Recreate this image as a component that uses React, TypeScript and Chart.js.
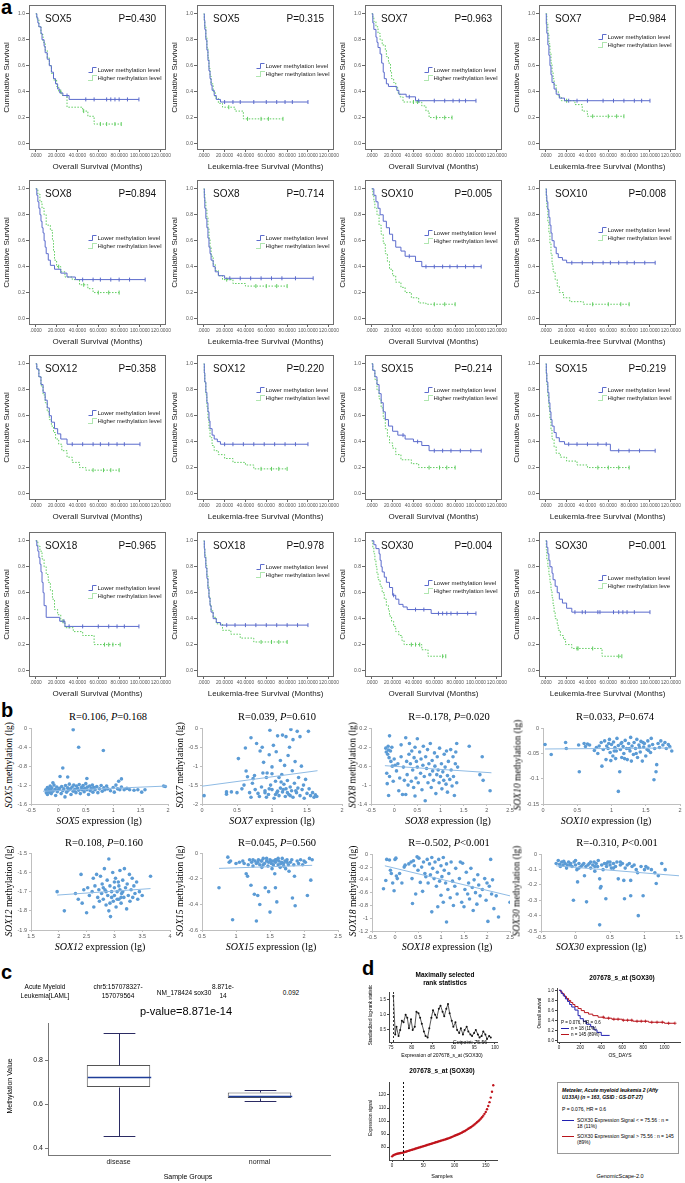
import React, { useEffect, useRef } from 'react';
import { Chart, registerables } from 'chart.js';

Chart.register(...registerables);

const SANS = '"Liberation Sans", Arial, sans-serif';
const SERIF = '"Liberation Serif", "Times New Roman", serif';
const KM_BLUE = '#5b6bcc';
const KM_GREEN = '#5fcc5f';
const PT_BLUE = '#5b9bd5';

// ---------------- Panel a: Kaplan-Meier curves [months, cumulative survival] ----------------
const KM_X_TICKS = [0, 20, 40, 60, 80, 100, 120];
const KM_Y_TICKS = [0, 0.2, 0.4, 0.6, 0.8, 1.0];

const SOX5_OS_LOW = [[0,1],[1,0.97],[2,0.93],[3,0.9],[5,0.85],[6,0.8],[8,0.75],[9,0.7],[11,0.65],[13,0.6],[15,0.55],[17,0.5],[19,0.46],[21,0.42],[23,0.39],[26,0.37],[32,0.34],[99,0.34]];
const SOX5_OS_LOW_C = [30,48,56,68,72,76,80,88,99];
const SOX5_OS_HIGH = [[0,1],[1,0.96],[3,0.9],[5,0.84],[7,0.78],[9,0.72],[11,0.66],[13,0.6],[15,0.54],[17,0.49],[20,0.44],[22,0.4],[25,0.37],[30,0.28],[45,0.25],[50,0.21],[56,0.15],[82,0.15]];
const SOX5_OS_HIGH_C = [24,46,62,68,76,82];
const SOX5_LFS_LOW = [[0,1],[0.5,0.95],[1,0.88],[2,0.8],[3,0.72],[4,0.64],[5,0.56],[6,0.5],[7,0.45],[8,0.41],[10,0.37],[12,0.34],[16,0.32],[100,0.32]];
const SOX5_LFS_LOW_C = [20,28,35,48,60,70,78,85,100];
const SOX5_LFS_HIGH = [[0,1],[0.5,0.95],[1,0.9],[2,0.82],[3,0.74],[4,0.66],[5,0.58],[6,0.52],[7,0.46],[9,0.4],[11,0.35],[14,0.31],[18,0.28],[30,0.25],[38,0.19],[76,0.19]];
const SOX5_LFS_HIGH_C = [24,42,55,62,76];

const SOX7_OS_LOW = [[0,1],[1,0.93],[2,0.88],[4,0.82],[5,0.78],[6,0.74],[8,0.69],[9.5,0.62],[11,0.55],[12,0.5],[14,0.46],[16,0.44],[24,0.41],[26,0.38],[33,0.36],[42,0.33],[100,0.33]];
const SOX7_OS_LOW_C = [36,45,60,70,78,84,90,100];
const SOX7_OS_HIGH = [[0,1],[1,0.97],[2,0.94],[4,0.9],[6,0.85],[8,0.8],[10,0.76],[13,0.72],[14,0.67],[16,0.62],[18,0.55],[19,0.5],[21,0.47],[23,0.43],[25,0.39],[27,0.36],[30,0.32],[48,0.29],[52,0.25],[55,0.2],[77,0.2]];
const SOX7_OS_HIGH_C = [40,44,62,70,77];
const SOX7_LFS_LOW = [[0,1],[0.5,0.92],[1,0.85],[2,0.76],[3,0.68],[4,0.6],[5,0.53],[6,0.47],[8,0.42],[10,0.38],[13,0.35],[18,0.33],[100,0.33]];
const SOX7_LFS_LOW_C = [22,30,40,55,65,75,85,92,100];
const SOX7_LFS_HIGH = [[0,1],[1,0.93],[2,0.85],[3,0.77],[4,0.7],[5,0.62],[6,0.55],[7,0.5],[8,0.45],[10,0.4],[12,0.36],[15,0.33],[28,0.3],[35,0.25],[40,0.21],[75,0.21]];
const SOX7_LFS_HIGH_C = [20,45,60,68,75];

const SOX8_OS_LOW = [[0,1],[1,0.95],[2,0.9],[3,0.85],[4,0.8],[5,0.75],[6,0.7],[7,0.66],[8,0.6],[9,0.55],[10,0.5],[12,0.45],[14,0.41],[18,0.38],[24,0.35],[30,0.32],[38,0.3],[105,0.3]];
const SOX8_OS_LOW_C = [45,55,62,72,80,90,105];
const SOX8_OS_HIGH = [[0,1],[2,0.96],[4,0.9],[6,0.85],[8,0.8],[10,0.72],[14,0.68],[16,0.6],[17,0.52],[18,0.45],[20,0.4],[24,0.36],[28,0.32],[35,0.3],[42,0.26],[50,0.23],[55,0.2],[80,0.2]];
const SOX8_OS_HIGH_C = [22,46,60,70,80];
const SOX8_LFS_LOW = [[0,1],[0.5,0.93],[1,0.85],[2,0.77],[3,0.7],[4,0.62],[5,0.55],[6,0.5],[7,0.45],[9,0.4],[11,0.36],[14,0.33],[20,0.31],[105,0.31]];
const SOX8_LFS_LOW_C = [25,35,45,55,65,75,88,105];
const SOX8_LFS_HIGH = [[0,1],[0.5,0.96],[1,0.9],[2,0.84],[3,0.78],[4,0.7],[5,0.62],[6,0.55],[7,0.48],[9,0.42],[11,0.37],[14,0.33],[18,0.3],[28,0.27],[40,0.25],[80,0.25]];
const SOX8_LFS_HIGH_C = [22,50,60,70,80];

const SOX10_OS_LOW = [[0,1],[2,0.95],[4,0.9],[6,0.85],[8,0.8],[11,0.75],[14,0.7],[17,0.65],[20,0.6],[23,0.55],[28,0.52],[32,0.48],[42,0.44],[48,0.4],[105,0.4]];
const SOX10_OS_LOW_C = [36,52,60,68,75,82,90,98,105];
const SOX10_OS_HIGH = [[0,1],[1,0.95],[2,0.9],[3,0.85],[5,0.8],[7,0.72],[9,0.65],[11,0.58],[13,0.5],[15,0.44],[17,0.38],[20,0.33],[23,0.28],[28,0.24],[32,0.2],[38,0.16],[45,0.12],[52,0.11],[80,0.11]];
const SOX10_OS_HIGH_C = [60,70,80];
const SOX10_LFS_LOW = [[0,1],[0.5,0.95],[1,0.9],[2,0.84],[3,0.78],[4,0.72],[5,0.66],[6,0.6],[8,0.55],[10,0.5],[12,0.47],[16,0.45],[20,0.43],[105,0.43]];
const SOX10_LFS_LOW_C = [25,35,45,55,62,70,78,85,95,105];
const SOX10_LFS_HIGH = [[0,1],[0.5,0.93],[1,0.85],[2,0.75],[3,0.66],[4,0.58],[5,0.5],[6,0.42],[7,0.36],[9,0.3],[11,0.25],[13,0.2],[17,0.16],[23,0.13],[36,0.11],[80,0.11]];
const SOX10_LFS_HIGH_C = [45,60,72,80];

const SOX12_OS_LOW = [[0,1],[1,0.96],[3,0.9],[5,0.84],[7,0.78],[9,0.72],[11,0.66],[13,0.6],[15,0.55],[18,0.5],[21,0.46],[24,0.42],[30,0.38],[100,0.38]];
const SOX12_OS_LOW_C = [35,45,55,62,70,78,85,100];
const SOX12_OS_HIGH = [[0,1],[1,0.96],[3,0.9],[5,0.83],[7,0.76],[9,0.7],[11,0.63],[13,0.57],[15,0.52],[17,0.47],[19,0.42],[22,0.38],[25,0.33],[30,0.28],[35,0.24],[42,0.2],[48,0.18],[80,0.18]];
const SOX12_OS_HIGH_C = [55,65,72,80];
const SOX12_LFS_LOW = [[0,1],[0.5,0.93],[1,0.86],[2,0.78],[3,0.7],[4,0.63],[5,0.56],[6,0.5],[8,0.45],[10,0.42],[13,0.4],[16,0.38],[100,0.38]];
const SOX12_LFS_LOW_C = [20,28,38,48,58,68,78,88,100];
const SOX12_LFS_HIGH = [[0,1],[0.5,0.93],[1,0.85],[2,0.76],[3,0.67],[4,0.58],[5,0.5],[6,0.43],[8,0.37],[10,0.33],[14,0.3],[20,0.27],[28,0.24],[40,0.22],[48,0.19],[80,0.19]];
const SOX12_LFS_HIGH_C = [55,65,72,80];

const SOX15_OS_LOW = [[0,1],[1,0.95],[3,0.9],[5,0.84],[7,0.77],[9,0.7],[11,0.63],[13,0.57],[16,0.52],[20,0.48],[25,0.45],[32,0.42],[40,0.4],[48,0.37],[55,0.33],[105,0.33]];
const SOX15_OS_LOW_C = [30,44,60,68,76,85,95,105];
const SOX15_OS_HIGH = [[0,1],[1,0.95],[3,0.88],[5,0.8],[7,0.73],[9,0.66],[11,0.58],[13,0.5],[15,0.44],[17,0.39],[20,0.35],[23,0.3],[28,0.26],[38,0.23],[45,0.2],[80,0.2]];
const SOX15_OS_HIGH_C = [55,65,72,80];
const SOX15_LFS_LOW = [[0,1],[0.5,0.93],[1,0.86],[2,0.78],[3,0.7],[4,0.63],[5,0.57],[6,0.52],[8,0.47],[10,0.43],[13,0.4],[18,0.38],[62,0.33],[105,0.33]];
const SOX15_LFS_LOW_C = [22,30,40,50,58,70,80,90,105];
const SOX15_LFS_HIGH = [[0,1],[0.5,0.92],[1,0.84],[2,0.75],[3,0.66],[4,0.57],[5,0.49],[6,0.42],[8,0.36],[10,0.31],[14,0.28],[20,0.25],[30,0.22],[40,0.2],[80,0.2]];
const SOX15_LFS_HIGH_C = [50,60,70,80];

const SOX18_OS_LOW = [[0,1],[1,0.96],[2,0.92],[3,0.87],[4,0.82],[5,0.76],[6,0.68],[7,0.6],[8,0.5],[10,0.41],[23,0.38],[28,0.34],[99,0.34]];
const SOX18_OS_LOW_C = [27,32,45,60,70,78,85,99];
const SOX18_OS_HIGH = [[0,1],[2,0.96],[4,0.92],[6,0.86],[8,0.8],[10,0.74],[12,0.68],[14,0.62],[16,0.55],[18,0.47],[21,0.43],[24,0.38],[28,0.33],[36,0.3],[45,0.27],[56,0.2],[81,0.2]];
const SOX18_OS_HIGH_C = [26,66,70,74,81];
const SOX18_LFS_LOW = [[0,1],[0.5,0.94],[1,0.87],[2,0.79],[3,0.71],[4,0.63],[5,0.56],[6,0.5],[7,0.45],[9,0.4],[12,0.37],[16,0.35],[100,0.35]];
const SOX18_LFS_LOW_C = [22,30,40,50,60,70,80,90,100];
const SOX18_LFS_HIGH = [[0,1],[0.5,0.95],[1,0.89],[2,0.81],[3,0.73],[4,0.65],[5,0.57],[6,0.51],[7,0.46],[9,0.41],[12,0.36],[18,0.31],[26,0.28],[35,0.25],[48,0.22],[80,0.22]];
const SOX18_LFS_HIGH_C = [55,65,72,80];

const SOX30_OS_LOW = [[0,1],[2,0.97],[4,0.94],[7,0.9],[8,0.85],[9,0.8],[10,0.76],[12,0.72],[14,0.68],[17,0.64],[20,0.58],[23,0.55],[26,0.51],[30,0.49],[34,0.47],[57,0.44],[100,0.44]];
const SOX30_OS_LOW_C = [21,42,50,64,68,72,76,82,92,100];
const SOX30_OS_HIGH = [[0,1],[1,0.95],[2,0.9],[3,0.85],[4,0.8],[5,0.75],[6,0.7],[8,0.65],[10,0.6],[12,0.55],[14,0.5],[16,0.46],[17,0.42],[19,0.38],[21,0.34],[23,0.3],[26,0.27],[29,0.23],[31,0.2],[48,0.16],[54,0.11],[71,0.11]];
const SOX30_OS_HIGH_C = [38,42,46,68,71];
const SOX30_LFS_LOW = [[0,1],[1,0.95],[2,0.9],[3,0.85],[4,0.8],[6,0.75],[7,0.7],[9,0.65],[11,0.6],[13,0.55],[16,0.52],[20,0.48],[25,0.45],[100,0.45]];
const SOX30_LFS_LOW_C = [28,35,38,50,52,65,70,74,78,85,100];
const SOX30_LFS_HIGH = [[0,1],[0.5,0.93],[1,0.86],[2,0.8],[3,0.74],[4,0.68],[5,0.62],[6,0.56],[7,0.5],[8,0.45],[9,0.4],[11,0.35],[12,0.31],[14,0.27],[17,0.24],[19,0.2],[25,0.17],[54,0.11],[73,0.11]];
const SOX30_LFS_HIGH_C = [30,31,45,70,73];

const KM_PLOTS = [
  { gene: 'SOX5', p: 'P=0.430', os: true, low: SOX5_OS_LOW, lowC: SOX5_OS_LOW_C, high: SOX5_OS_HIGH, highC: SOX5_OS_HIGH_C, legY: 0.57 },
  { gene: 'SOX5', p: 'P=0.315', os: false, low: SOX5_LFS_LOW, lowC: SOX5_LFS_LOW_C, high: SOX5_LFS_HIGH, highC: SOX5_LFS_HIGH_C, legY: 0.6 },
  { gene: 'SOX7', p: 'P=0.963', os: true, low: SOX7_OS_LOW, lowC: SOX7_OS_LOW_C, high: SOX7_OS_HIGH, highC: SOX7_OS_HIGH_C, legY: 0.57 },
  { gene: 'SOX7', p: 'P=0.984', os: false, low: SOX7_LFS_LOW, lowC: SOX7_LFS_LOW_C, high: SOX7_LFS_HIGH, highC: SOX7_LFS_HIGH_C, legY: 0.82 },
  { gene: 'SOX8', p: 'P=0.894', os: true, low: SOX8_OS_LOW, lowC: SOX8_OS_LOW_C, high: SOX8_OS_HIGH, highC: SOX8_OS_HIGH_C, legY: 0.62 },
  { gene: 'SOX8', p: 'P=0.714', os: false, low: SOX8_LFS_LOW, lowC: SOX8_LFS_LOW_C, high: SOX8_LFS_HIGH, highC: SOX8_LFS_HIGH_C, legY: 0.62 },
  { gene: 'SOX10', p: 'P=0.005', os: true, low: SOX10_OS_LOW, lowC: SOX10_OS_LOW_C, high: SOX10_OS_HIGH, highC: SOX10_OS_HIGH_C, legY: 0.66 },
  { gene: 'SOX10', p: 'P=0.008', os: false, low: SOX10_LFS_LOW, lowC: SOX10_LFS_LOW_C, high: SOX10_LFS_HIGH, highC: SOX10_LFS_HIGH_C, legY: 0.68 },
  { gene: 'SOX12', p: 'P=0.358', os: true, low: SOX12_OS_LOW, lowC: SOX12_OS_LOW_C, high: SOX12_OS_HIGH, highC: SOX12_OS_HIGH_C, legY: 0.62 },
  { gene: 'SOX12', p: 'P=0.220', os: false, low: SOX12_LFS_LOW, lowC: SOX12_LFS_LOW_C, high: SOX12_LFS_HIGH, highC: SOX12_LFS_HIGH_C, legY: 0.8 },
  { gene: 'SOX15', p: 'P=0.214', os: true, low: SOX15_OS_LOW, lowC: SOX15_OS_LOW_C, high: SOX15_OS_HIGH, highC: SOX15_OS_HIGH_C, legY: 0.8 },
  { gene: 'SOX15', p: 'P=0.219', os: false, low: SOX15_LFS_LOW, lowC: SOX15_LFS_LOW_C, high: SOX15_LFS_HIGH, highC: SOX15_LFS_HIGH_C, legY: 0.8 },
  { gene: 'SOX18', p: 'P=0.965', os: true, low: SOX18_OS_LOW, lowC: SOX18_OS_LOW_C, high: SOX18_OS_HIGH, highC: SOX18_OS_HIGH_C, legY: 0.64 },
  { gene: 'SOX18', p: 'P=0.978', os: false, low: SOX18_LFS_LOW, lowC: SOX18_LFS_LOW_C, high: SOX18_LFS_HIGH, highC: SOX18_LFS_HIGH_C, legY: 0.8 },
  { gene: 'SOX30', p: 'P=0.004', os: true, low: SOX30_OS_LOW, lowC: SOX30_OS_LOW_C, high: SOX30_OS_HIGH, highC: SOX30_OS_HIGH_C, legY: 0.675 },
  { gene: 'SOX30', p: 'P=0.001', os: false, low: SOX30_LFS_LOW, lowC: SOX30_LFS_LOW_C, high: SOX30_LFS_HIGH, highC: SOX30_LFS_HIGH_C, legY: 0.71, hiText: 'Higher methylation leve' },
];
const KM_COL_LEFT = [0, 168, 336, 510];
const KM_ROW_TOP = [0, 175, 350, 527];

// ---------------- Panel b: expression vs methylation [expression lg, methylation lg] ----------------
const SOX5_PTS = [[-0.23,-1.3],[-0.22,-1.36],[-0.2,-1.25],[-0.2,-1.4],[-0.18,-1.32],[-0.17,-1.28],[-0.16,-1.35],[-0.15,-1.22],[-0.14,-1.3],[-0.13,-1.38],[-0.12,-1.26],[-0.1,-1.15],[-0.1,-1.33],[-0.08,-1.2],[-0.06,-1.29],[-0.05,-1.42],[-0.03,-1.24],[-0.02,-1.34],[0,-1.3],[0.02,-1.27],[0.03,-1.02],[0.05,-1.38],[0.06,-1.23],[0.08,-0.84],[0.08,-1.32],[0.1,-1.28],[0.12,-1.45],[0.13,-1.21],[0.15,-1.35],[0.17,-1.03],[0.17,-1.26],[0.18,-1.31],[0.2,-1.18],[0.22,-1.28],[0.23,-1.4],[0.25,-1.24],[0.27,-0.03],[0.27,-1.33],[0.28,-1.2],[0.3,-1.29],[0.32,-1.36],[0.33,-1.22],[0.35,-1.27],[0.37,-0.4],[0.37,-1.31],[0.38,-1.19],[0.4,-1.38],[0.42,-1.25],[0.43,-1.3],[0.45,-1.21],[0.47,-1.34],[0.48,-1.27],[0.5,-1.17],[0.52,-1.06],[0.52,-1.3],[0.53,-1.24],[0.55,-1.4],[0.57,-1.22],[0.58,-1.32],[0.6,-1.27],[0.62,-1.2],[0.63,-1.35],[0.65,-1.25],[0.67,-1.3],[0.7,-1.23],[0.72,-1.36],[0.75,-1.28],[0.78,-1.21],[0.8,-1.33],[0.82,-0.47],[0.83,-1.26],[0.85,-1.3],[0.88,-1.22],[0.9,-1.28],[0.95,-1.32],[1.0,-1.25],[1.02,-1.35],[1.05,-1.2],[1.08,-1.28],[1.1,-1.12],[1.12,-1.3],[1.15,-1.07],[1.15,-1.24],[1.2,-1.3],[1.25,-1.27],[1.3,-1.3],[1.38,-1.31],[1.45,-1.3],[1.52,-1.35],[1.58,-1.3],[1.92,-1.22],[1.95,-1.23]];
const SOX7_PTS = [[0.03,-1.78],[0.35,-1.74],[0.35,-1.68],[0.42,-1.68],[0.5,-1.7],[0.52,-0.8],[0.57,-1.6],[0.6,-1.5],[0.62,-0.52],[0.63,-1.13],[0.65,-1.28],[0.68,-1.7],[0.7,-1.82],[0.7,-0.25],[0.72,-1.45],[0.73,-1.33],[0.75,-1.25],[0.76,-1.62],[0.78,-0.4],[0.8,-1.72],[0.82,-1.8],[0.83,-0.6],[0.85,-1.55],[0.86,-0.5],[0.87,-1.18],[0.88,-0.9],[0.9,-1.65],[0.92,-1.82],[0.92,-1.3],[0.93,-1.18],[0.95,-1.75],[0.96,-0.7],[0.97,-0.05],[0.98,-1.5],[1.0,-1.02],[1.0,-1.62],[1.0,-1.2],[1.02,-0.45],[1.03,-1.85],[1.05,-1.4],[1.06,-0.62],[1.07,-1.7],[1.08,-0.2],[1.1,-1.3],[1.1,-1.78],[1.12,-0.85],[1.12,-1.58],[1.13,-1.42],[1.14,-1.22],[1.15,-0.18],[1.15,-1.68],[1.17,-1.48],[1.18,-0.98],[1.19,-1.8],[1.2,-0.22],[1.2,-1.6],[1.22,-1.38],[1.23,-0.72],[1.24,-1.75],[1.25,-0.5],[1.26,-1.55],[1.27,-0.03],[1.28,-1.65],[1.29,-1.12],[1.3,-0.3],[1.3,-1.82],[1.32,-1.45],[1.33,-0.88],[1.35,-1.7],[1.36,-0.08],[1.37,-1.58],[1.38,-1.3],[1.4,-0.22],[1.4,-1.78],[1.42,-1.0],[1.43,-1.62],[1.45,-1.5],[1.46,-1.85],[1.48,-1.35],[1.5,-1.72],[1.52,-0.08],[1.53,-1.6],[1.55,-1.78],[1.58,-1.7],[1.6,-1.82],[1.62,-1.76],[1.64,-1.8],[0.96,-1.6],[1.05,-1.75],[1.16,-1.62],[1.22,-1.7],[1.34,-1.65],[0.9,-1.7],[1.08,-1.66],[1.26,-1.78]];
const SOX8_PTS = [[-0.18,-0.22],[-0.17,-0.3],[-0.16,-0.75],[-0.15,-0.97],[-0.14,-0.35],[-0.13,-0.18],[-0.12,-1.22],[-0.12,-0.26],[-0.11,-0.42],[-0.1,0.04],[-0.1,-0.82],[-0.08,-0.28],[-0.07,-0.5],[-0.05,-0.2],[-0.04,-0.6],[-0.02,-0.92],[0,-0.45],[0.02,-0.58],[0.05,-0.7],[0.08,-0.55],[0.1,-1.12],[0.12,-0.85],[0.15,-0.15],[0.15,-0.4],[0.18,-1.2],[0.2,-0.62],[0.22,-0.9],[0.25,0.0],[0.25,-1.2],[0.27,-0.5],[0.28,-0.78],[0.3,-1.0],[0.32,-0.35],[0.33,-0.12],[0.35,-0.55],[0.37,-0.92],[0.38,-0.28],[0.4,-0.68],[0.42,-1.05],[0.43,-0.42],[0.45,-0.2],[0.45,-1.23],[0.47,-0.85],[0.48,-0.5],[0.5,-0.02],[0.5,-0.62],[0.52,-0.95],[0.55,-0.3],[0.57,-0.75],[0.58,-0.45],[0.6,-1.1],[0.62,-0.58],[0.63,-0.18],[0.65,-0.82],[0.67,-1.33],[0.68,-0.4],[0.7,-0.65],[0.72,-0.25],[0.73,-0.95],[0.75,-0.55],[0.77,-0.78],[0.78,-0.12],[0.8,-1.05],[0.82,-0.48],[0.83,-0.7],[0.85,-0.9],[0.87,-0.32],[0.88,-0.6],[0.9,-1.18],[0.92,-0.78],[0.93,-0.4],[0.95,-0.68],[0.97,-0.95],[0.98,-0.22],[1.0,-0.82],[1.02,-0.55],[1.03,-1.08],[1.05,-0.72],[1.07,-0.9],[1.08,-0.35],[1.1,-0.62],[1.12,-0.98],[1.13,-0.28],[1.15,-1.15],[1.15,-0.8],[1.17,-0.5],[1.2,-0.88],[1.22,-0.25],[1.23,-0.68],[1.25,-1.02],[1.27,-0.4],[1.28,-0.82],[1.3,-1.22],[1.32,-0.55],[1.33,-0.3],[1.35,-0.12],[1.35,-0.95],[1.37,-0.62],[1.62,-0.18],[1.85,-0.78],[1.9,-0.4],[1.92,-0.9],[2.07,-1.12]];
const SOX10_PTS = [[0.03,-0.032],[0.12,-0.052],[0.33,-0.028],[0.34,-0.04],[0.52,-0.033],[0.53,-0.086],[0.6,-0.03],[0.62,-0.036],[0.65,-0.031],[0.68,-0.033],[0.75,-0.044],[0.78,-0.038],[0.8,-0.05],[0.82,-0.035],[0.85,-0.028],[0.86,-0.075],[0.88,-0.042],[0.9,-0.025],[0.92,-0.062],[0.93,-0.035],[0.95,-0.04],[0.96,-0.03],[0.97,-0.022],[0.98,-0.048],[0.99,-0.064],[1.0,-0.032],[1.02,-0.055],[1.03,-0.027],[1.04,-0.045],[1.05,-0.038],[1.06,-0.06],[1.07,-0.045],[1.08,-0.02],[1.1,-0.034],[1.1,-0.125],[1.12,-0.086],[1.13,-0.042],[1.14,-0.03],[1.15,-0.028],[1.15,-0.058],[1.17,-0.036],[1.18,-0.05],[1.19,-0.06],[1.2,-0.024],[1.22,-0.04],[1.23,-0.062],[1.25,-0.03],[1.26,-0.04],[1.27,-0.045],[1.28,-0.018],[1.29,-0.065],[1.3,-0.035],[1.32,-0.052],[1.33,-0.028],[1.35,-0.04],[1.36,-0.05],[1.37,-0.022],[1.38,-0.058],[1.4,-0.033],[1.41,-0.038],[1.42,-0.047],[1.43,-0.026],[1.45,-0.065],[1.46,-0.028],[1.47,-0.037],[1.48,-0.03],[1.5,-0.055],[1.52,-0.042],[1.53,-0.025],[1.54,-0.044],[1.55,-0.035],[1.57,-0.048],[1.58,-0.02],[1.6,-0.032],[1.62,-0.102],[1.63,-0.04],[1.65,-0.086],[1.66,-0.072],[1.68,-0.03],[1.7,-0.038],[1.72,-0.025],[1.75,-0.033],[1.78,-0.028],[1.8,-0.04],[1.83,-0.032],[1.85,-0.036],[1.88,-0.045]];
const SOX12_PTS = [[1.97,-1.7],[2.1,-1.8],[2.3,-1.71],[2.35,-1.74],[2.4,-1.61],[2.42,-1.76],[2.45,-1.69],[2.5,-1.81],[2.52,-1.68],[2.55,-1.72],[2.6,-1.7],[2.62,-1.63],[2.63,-1.78],[2.65,-1.67],[2.68,-1.61],[2.7,-1.73],[2.72,-1.69],[2.73,-1.75],[2.75,-1.62],[2.77,-1.71],[2.78,-1.66],[2.8,-1.74],[2.8,-1.68],[2.82,-1.58],[2.83,-1.69],[2.85,-1.77],[2.85,-1.7],[2.87,-1.64],[2.88,-1.72],[2.9,-1.53],[2.9,-1.8],[2.92,-1.67],[2.92,-1.76],[2.93,-1.83],[2.95,-1.7],[2.95,-1.73],[2.97,-1.6],[2.98,-1.75],[3.0,-1.68],[3.0,-1.72],[3.0,-1.65],[3.02,-1.63],[3.03,-1.78],[3.05,-1.7],[3.05,-1.74],[3.07,-1.65],[3.08,-1.74],[3.08,-1.67],[3.1,-1.59],[3.1,-1.69],[3.12,-1.76],[3.12,-1.73],[3.13,-1.71],[3.15,-1.64],[3.15,-1.7],[3.17,-1.73],[3.18,-1.58],[3.2,-1.68],[3.22,-1.79],[3.23,-1.66],[3.25,-1.72],[3.27,-1.61],[3.28,-1.75],[3.3,-1.69],[3.32,-1.63],[3.33,-1.73],[3.35,-1.67],[3.37,-1.71],[3.4,-1.65],[3.42,-1.74],[3.45,-1.7],[3.5,-1.72],[3.65,-1.62]];
const SOX15_PTS = [[0.75,-0.27],[0.88,-0.03],[0.9,-0.07],[0.92,-0.06],[0.95,-0.52],[1.0,-0.08],[1.05,-0.07],[1.1,-0.06],[1.12,-0.08],[1.15,-0.16],[1.17,-0.18],[1.18,-0.09],[1.2,-0.05],[1.22,-0.25],[1.23,-0.07],[1.25,-0.1],[1.25,-0.05],[1.27,-0.32],[1.28,-0.06],[1.3,-0.53],[1.3,-0.08],[1.32,-0.33],[1.32,-0.07],[1.33,-0.05],[1.35,-0.09],[1.35,-0.4],[1.37,-0.06],[1.38,-0.11],[1.38,-0.06],[1.4,-0.04],[1.4,-0.09],[1.42,-0.08],[1.43,-0.27],[1.45,-0.06],[1.45,-0.04],[1.47,-0.1],[1.48,-0.3],[1.48,-0.07],[1.5,-0.05],[1.5,-0.46],[1.52,-0.08],[1.52,-0.06],[1.53,-0.12],[1.55,-0.06],[1.55,-0.09],[1.57,-0.16],[1.58,-0.27],[1.58,-0.07],[1.58,-0.05],[1.6,-0.05],[1.6,-0.38],[1.62,-0.09],[1.62,-0.04],[1.63,-0.06],[1.65,-0.11],[1.66,-0.08],[1.67,-0.07],[1.68,-0.04],[1.7,-0.08],[1.7,-0.1],[1.72,-0.06],[1.73,-0.12],[1.75,-0.05],[1.75,-0.07],[1.77,-0.09],[1.78,-0.14],[1.8,-0.07],[1.82,-0.05],[1.83,-0.35],[1.85,-0.09],[1.86,-0.18],[1.87,-0.41],[1.9,-0.06],[1.92,-0.08],[1.95,-0.05],[1.98,-0.09],[2.0,-0.06],[2.02,-0.07],[2.05,-0.33],[2.08,-0.04],[2.1,-0.21],[2.12,-0.05]];
const SOX18_PTS = [[-0.25,-0.54],[-0.2,-0.41],[-0.18,-0.08],[-0.12,-0.09],[-0.1,-0.25],[-0.08,-0.3],[-0.05,-0.45],[-0.02,-0.57],[0,-0.08],[0.02,-0.06],[0.03,-0.34],[0.05,-0.38],[0.1,-0.3],[0.15,-0.45],[0.2,-0.2],[0.22,-0.17],[0.3,-0.15],[0.35,-0.12],[0.37,-0.38],[0.38,-0.77],[0.4,-0.1],[0.42,-0.18],[0.45,-0.62],[0.48,-0.04],[0.5,-0.25],[0.52,-0.06],[0.55,-0.44],[0.58,-0.2],[0.6,-0.58],[0.62,-0.12],[0.65,-0.3],[0.67,-0.35],[0.7,-0.08],[0.72,-0.45],[0.75,-0.15],[0.77,-0.32],[0.8,-0.05],[0.8,-0.9],[0.82,-0.22],[0.85,-0.38],[0.87,-0.12],[0.9,-0.5],[0.92,-0.28],[0.93,-0.82],[0.95,-0.08],[0.97,-0.42],[1.0,-0.18],[1.0,-0.64],[1.02,-0.35],[1.05,-0.05],[1.05,-0.75],[1.07,-0.25],[1.1,-0.45],[1.12,-1.06],[1.12,-0.15],[1.15,-0.55],[1.17,-0.3],[1.2,-0.68],[1.22,-0.12],[1.25,-0.42],[1.27,-0.8],[1.3,-0.5],[1.32,-0.22],[1.35,-0.62],[1.4,-0.38],[1.42,-0.12],[1.45,-0.75],[1.47,-0.14],[1.5,-0.82],[1.52,-0.55],[1.55,-0.28],[1.58,-0.62],[1.6,-0.45],[1.62,-0.7],[1.65,-0.22],[1.68,-0.52],[1.7,-0.88],[1.72,-0.4],[1.75,-0.6],[1.78,-0.78],[1.8,-0.32],[1.82,-0.48],[1.85,-0.65],[1.9,-0.55],[1.95,-0.38],[1.98,-0.72],[2.0,-0.45],[2.02,-1.05],[2.05,-0.5],[2.08,-0.08],[2.1,-0.62],[2.12,-0.4],[2.15,-0.85],[2.2,-0.65],[2.25,-0.98],[2.5,-0.75]];
const SOX30_PTS = [[-0.28,-0.06],[-0.25,-0.04],[-0.23,-0.065],[-0.22,-0.08],[-0.2,-0.05],[-0.18,-0.07],[-0.17,-0.045],[-0.15,-0.06],[-0.13,-0.09],[-0.12,-0.07],[-0.1,-0.05],[-0.08,-0.07],[-0.07,-0.06],[-0.05,-0.08],[-0.03,-0.3],[-0.02,-0.05],[0,-0.07],[0,-0.04],[0.02,-0.1],[0.03,-0.18],[0.05,-0.06],[0.05,-0.09],[0.08,-0.08],[0.1,-0.07],[0.12,-0.06],[0.13,-0.14],[0.15,-0.08],[0.16,-0.31],[0.18,-0.07],[0.2,-0.06],[0.22,-0.09],[0.22,-0.05],[0.25,-0.07],[0.27,-0.05],[0.28,-0.11],[0.28,-0.08],[0.3,-0.06],[0.32,-0.08],[0.33,-0.04],[0.35,-0.16],[0.35,-0.46],[0.36,-0.22],[0.37,-0.21],[0.38,-0.07],[0.4,-0.1],[0.42,-0.06],[0.44,-0.29],[0.45,-0.08],[0.45,-0.06],[0.47,-0.05],[0.5,-0.07],[0.5,-0.05],[0.52,-0.09],[0.55,-0.06],[0.55,-0.09],[0.58,-0.08],[0.6,-0.05],[0.62,-0.16],[0.65,-0.07],[0.65,-0.05],[0.68,-0.06],[0.7,-0.17],[0.71,-0.29],[0.72,-0.09],[0.75,-0.07],[0.78,-0.06],[0.8,-0.17],[0.8,-0.27],[0.82,-0.08],[0.85,-0.07],[0.88,-0.1],[0.9,-0.12],[0.91,-0.4],[0.95,-0.08],[0.98,-0.27],[1.0,-0.1],[1.02,-0.08],[1.05,-0.09],[1.1,-0.1],[1.15,-0.12],[1.17,-0.19],[1.2,-0.14],[1.25,-0.06],[1.3,-0.1]];

const SOX5_FIT = [[-0.28,-1.33],[1.98,-1.22]];
const SOX7_FIT = [[0,-1.53],[1.65,-1.12]];
const SOX8_FIT = [[-0.2,-0.59],[2.1,-0.74]];
const SOX10_FIT = [[0.03,-0.041],[1.88,-0.039]];
const SOX12_FIT = [[1.97,-1.718],[3.65,-1.684]];
const SOX15_FIT = [[0.75,-0.118],[2.12,-0.094]];
const SOX18_FIT = [[-0.22,-0.18],[2.5,-0.65]];
const SOX30_FIT = [[-0.28,-0.075],[1.5,-0.14]];

const B_PLOTS = [
  { gene: 'SOX5', r: 'R=0.106, ', p: '=0.168', pts: SOX5_PTS, fit: SOX5_FIT, xt: [-0.5,0,0.5,1,1.5,2], yt: [-1.6,-1.2,-0.8,-0.4,0] },
  { gene: 'SOX7', r: 'R=0.039, ', p: '=0.610', pts: SOX7_PTS, fit: SOX7_FIT, xt: [0,0.5,1,1.5,2], yt: [-2,-1.5,-1,-0.5,0] },
  { gene: 'SOX8', r: 'R=-0.178, ', p: '=0.020', pts: SOX8_PTS, fit: SOX8_FIT, xt: [-0.5,0,0.5,1,1.5,2,2.5], yt: [-1.4,-1,-0.6,-0.2,0.2] },
  { gene: 'SOX10', r: 'R=0.033, ', p: '=0.674', pts: SOX10_PTS, fit: SOX10_FIT, xt: [0,0.5,1,1.5,2], yt: [-0.15,-0.1,-0.05,0] },
  { gene: 'SOX12', r: 'R=0.108, ', p: '=0.160', pts: SOX12_PTS, fit: SOX12_FIT, xt: [1.5,2,2.5,3,3.5,4], yt: [-1.9,-1.8,-1.7,-1.6,-1.5] },
  { gene: 'SOX15', r: 'R=0.045, ', p: '=0.560', pts: SOX15_PTS, fit: SOX15_FIT, xt: [0.5,1,1.5,2,2.5], yt: [-0.6,-0.4,-0.2,0] },
  { gene: 'SOX18', r: 'R=-0.502, ', p: '<0.001', pts: SOX18_PTS, fit: SOX18_FIT, xt: [-0.5,0,0.5,1,1.5,2,2.5], yt: [-1.2,-1,-0.8,-0.6,-0.4,-0.2,0] },
  { gene: 'SOX30', r: 'R=-0.310, ', p: '<0.001', pts: SOX30_PTS, fit: SOX30_FIT, xt: [-0.5,0,0.5,1,1.5], yt: [-0.5,-0.4,-0.3,-0.2,-0.1,0] },
];
// plot areas [left, top, right, bottom]
const B_AREAS = [[31,727,168,804],[202,727,342,804],[371,727,510,804],[543,727,680,804],[31,852,170,930],[202,852,338,930],[372,853,510,931],[541,853,679,931]];
const B_TITLE_X = [108, 277, 449, 615, 104, 277, 449, 617];
const B_XT_X = [99, 272, 448, 606, 100, 271, 447, 601];
const B_YL_X = [9, 180, 353, 518, 9, 180, 353, 517];

// ---------------- Panel c: box plot ----------------
const C_GROUPS = ['disease', 'normal'];
const C_MIN = [0.455, 0.615];
const C_Q1 = [0.68, 0.63];
const C_MED = [0.725, 0.64];
const C_Q3 = [0.78, 0.655];
const C_MAX = [0.925, 0.665];
const C_Y_TICKS = [0.4, 0.6, 0.8];

// ---------------- Panel d ----------------
const D1_CUTS = [75.56,76.0,76.3,76.8,77.2,77.6,78.0,78.5,78.9,79.3,79.8,80.2,80.7,81.1,81.6,82.0,82.4,82.9,83.3,83.8,84.2,84.7,85.1,85.6,86.0,86.5,86.9,87.4,87.8,88.3,88.7,89.1,89.6,90.0,90.5,90.9,91.4,91.8,92.3,92.7,93.2,93.6,94.1,94.5,95.0,95.4,95.9,96.3,96.8,97.2,97.7,98.1,98.6,99.0];
const D1_STATS = [1.62,0.35,0.6,0.3,0.5,0.8,0.75,1.0,0.9,0.55,0.85,0.5,0.6,1.1,1.05,0.9,0.7,0.45,0.3,0.25,0.55,0.9,1.15,1.0,0.9,1.2,1.3,1.1,0.95,1.2,1.35,1.05,0.8,0.6,0.75,0.5,0.4,0.55,0.35,0.5,0.6,0.45,0.35,0.3,0.4,0.5,0.35,0.25,0.3,0.45,0.35,0.2,0.3,0.25];
const D1_CUTPOINT = 75.56;
const D1_X_TICKS = [75, 80, 85, 90, 95, 100];
const D1_Y_TICKS = [0.5, 1.0, 1.5];

const D2_LOW = [[0,1],[20,0.94],[40,0.89],[60,0.83],[80,0.78],[100,0.72],[120,0.67],[150,0.61],[180,0.5],[200,0.44],[230,0.39],[260,0.33],[300,0.28],[330,0.22],[360,0.17],[400,0.11],[480,0.11]];
const D2_HIGH = [[0,1],[15,0.97],[30,0.93],[50,0.88],[70,0.84],[90,0.8],[110,0.76],[130,0.72],[150,0.68],[180,0.64],[210,0.6],[240,0.56],[280,0.53],[320,0.5],[370,0.47],[430,0.45],[500,0.43],[600,0.41],[700,0.39],[850,0.37],[1000,0.35],[1100,0.35]];
const D2_HIGH_C = [420,470,520,560,610,650,690,740,780,820,880,930,980,1040,1100];
const D2_X_TICKS = [0, 200, 400, 600, 800, 1000];
const D2_Y_TICKS = [0, 0.2, 0.4, 0.6, 0.8, 1.0];

const D3_SIGNAL = [72.8,73.6,74.1,74.5,74.8,75.0,75.2,75.4,75.5,75.8,76.1,76.4,76.7,77.0,77.3,77.6,77.9,78.2,78.5,78.8,79.1,79.4,79.7,80.0,80.3,80.6,80.9,81.2,81.5,81.8,82.1,82.4,82.7,83.0,83.3,83.6,83.9,84.2,84.5,84.8,85.1,85.4,85.7,86.0,86.3,86.6,87.0,87.4,87.8,88.2,88.6,89.0,89.4,89.8,90.2,90.7,91.2,91.7,92.2,92.8,93.4,94.0,94.6,95.2,95.9,96.6,97.4,98.2,99.0,99.9,100.8,101.8,102.9,104.1,105.5,107.0,109.0,111.5,114.5,118.0,122.5,127.5];
const D3_SAMPLE_STEP = 2;
const D3_CUT_INDEX = 18;
const D3_X_TICKS = [0, 50, 100, 150];
const D3_Y_TICKS = [80, 90, 100, 110, 120];

// ---------------- helpers ----------------
const fmt = (v: number) => String(Math.round(v * 1000) / 1000);
const fixedTicks = (vals: number[]) => (s: any) => { s.ticks = vals.map((value) => ({ value })); };

function ChartBox({ left, top, width, height, config }: any) {
  const ref = useRef<HTMLCanvasElement>(null);
  useEffect(() => {
    const chart = new Chart(ref.current as HTMLCanvasElement, config());
    return () => chart.destroy();
  }, []);
  return <canvas ref={ref} width={width} height={height} style={{ position: 'absolute', left, top, width, height }} />;
}

function Txt({ x, y, size, children, family = SANS, weight = 'normal', italic = false, anchor = 'c', rot = false, color = '#000', lh = 1.15, align = 'center' }: any) {
  const tx = anchor === 'l' ? '0' : anchor === 'r' ? '-100%' : '-50%';
  return (
    <div style={{ position: 'absolute', left: x, top: y, transform: `translate(${tx},-50%)${rot ? ' rotate(-90deg)' : ''}`, fontSize: size, fontFamily: family, fontWeight: weight, fontStyle: italic ? 'italic' : 'normal', whiteSpace: 'nowrap', lineHeight: lh, color, textAlign: align }}>
      {children}
    </div>
  );
}

const stepAt = (curve: number[][], t: number) => { let s = 1; for (const [tt, ss] of curve) if (tt <= t) s = ss; return s; };

function kmConfig(k: any) {
  const line = (c: number[][], color: string, dash: number[]) => ({ data: c.map(([x, y]) => ({ x, y })), showLine: true, stepped: true, borderColor: color, borderWidth: 1, borderDash: dash, pointRadius: 0, fill: false });
  const cens = (c: number[][], ts: number[], color: string) => ({ data: ts.map((t) => ({ x: t, y: stepAt(c, t) })), showLine: false, pointStyle: 'line', rotation: 90, pointRadius: 2, borderColor: color, borderWidth: 1 });
  const deco = {
    id: 'kmDeco',
    afterDraw(chart: any) {
      const { ctx, chartArea: a, scales } = chart;
      ctx.save();
      ctx.strokeStyle = '#6e6e6e'; ctx.lineWidth = 1;
      ctx.strokeRect(Math.round(a.left) + 0.5, Math.round(a.top) + 0.5, Math.round(a.width) - 1, Math.round(a.height) - 1);
      ctx.fillStyle = '#111'; ctx.font = `10px ${SANS}`; ctx.textBaseline = 'middle';
      ctx.textAlign = 'left'; ctx.fillText(k.gene, a.left + 16, a.top + 14);
      ctx.textAlign = 'right'; ctx.fillText(k.p, a.right - 10, a.top + 14);
      ctx.beginPath(); ctx.rect(a.left, a.top, a.width - 1, a.height); ctx.clip();
      const gx = Math.round(scales.x.getPixelForValue(50)) + 0.5;
      const y1 = Math.round(scales.y.getPixelForValue(k.legY)) + 0.5;
      const y2 = y1 + 8;
      ctx.lineWidth = 1;
      ctx.strokeStyle = KM_BLUE; ctx.setLineDash([]);
      ctx.beginPath(); ctx.moveTo(gx, y1 + 2); ctx.lineTo(gx + 4, y1 + 2); ctx.lineTo(gx + 4, y1 - 3); ctx.lineTo(gx + 8, y1 - 3); ctx.stroke();
      ctx.strokeStyle = KM_GREEN; ctx.setLineDash([1, 1]);
      ctx.beginPath(); ctx.moveTo(gx, y2 + 2); ctx.lineTo(gx + 4, y2 + 2); ctx.lineTo(gx + 4, y2 - 3); ctx.lineTo(gx + 8, y2 - 3); ctx.stroke();
      ctx.setLineDash([]);
      ctx.fillStyle = '#222'; ctx.font = `6px ${SANS}`; ctx.textAlign = 'left';
      ctx.fillText('Lower methylation level', gx + 9, y1);
      ctx.fillText(k.hiText || 'Higher methylation level', gx + 9, y2);
      ctx.restore();
    },
  };
  return {
    type: 'scatter',
    data: { datasets: [line(k.low, KM_BLUE, []), line(k.high, KM_GREEN, [1.5, 1.5]), cens(k.low, k.lowC, KM_BLUE), cens(k.high, k.highC, KM_GREEN)] },
    options: {
      animation: false, responsive: false, devicePixelRatio: 1,
      layout: { padding: { top: 3, right: 1, left: 0, bottom: 0 } },
      plugins: { legend: { display: false }, tooltip: { enabled: false } },
      scales: {
        x: {
          type: 'linear', min: -6.5, max: 125,
          afterBuildTicks: fixedTicks(KM_X_TICKS), afterFit: (s: any) => { s.height = 22; },
          ticks: { autoSkip: false, maxRotation: 0, padding: 1, font: { size: 4.8, family: SANS }, color: '#555', callback: (v: number) => (v === 0 ? '.0000' : v.toFixed(4)) },
          grid: { drawOnChartArea: false, tickLength: 2, color: '#666' }, border: { display: false },
          title: { display: true, text: k.os ? 'Overall Survival (Months)' : 'Leukemia-free Survival (Months)', font: { size: 8, family: SANS }, color: '#222', padding: { top: 1, bottom: 0 } },
        },
        y: {
          type: 'linear', min: -0.05, max: 1.068,
          afterBuildTicks: fixedTicks(KM_Y_TICKS), afterFit: (s: any) => { s.width = 29; },
          ticks: { autoSkip: false, padding: 1, font: { size: 5, family: SANS }, color: '#555', callback: (v: number) => v.toFixed(1) },
          grid: { drawOnChartArea: false, tickLength: 3, color: '#666' }, border: { display: false },
          title: { display: true, text: 'Cumulative Survival', font: { size: 8, family: SANS }, color: '#222', padding: { top: 2, bottom: 0 } },
        },
      },
    },
    plugins: [deco],
  };
}

function scatterConfig(b: any, yw: number) {
  const xt = b.xt, yt = b.yt;
  return {
    type: 'scatter',
    data: {
      datasets: [
        { data: b.fit.map(([x, y]: number[]) => ({ x, y })), showLine: true, borderColor: '#8fbbe4', borderWidth: 1, pointRadius: 0 },
        { data: b.pts.map(([x, y]: number[]) => ({ x, y })), backgroundColor: PT_BLUE, borderWidth: 0, pointRadius: 1.8 },
      ],
    },
    options: {
      animation: false, responsive: false, devicePixelRatio: 1,
      layout: { padding: { top: 4, right: 6, left: 0, bottom: 0 } },
      plugins: { legend: { display: false }, tooltip: { enabled: false } },
      scales: {
        x: {
          type: 'linear', min: xt[0], max: xt[xt.length - 1],
          afterBuildTicks: fixedTicks(xt), afterFit: (s: any) => { s.height = 12; },
          ticks: { autoSkip: false, maxRotation: 0, padding: 1, font: { size: 5.5, family: SANS }, color: '#595959', callback: fmt },
          grid: { drawOnChartArea: false, tickLength: 2, color: '#bfbfbf' }, border: { color: '#bfbfbf' },
        },
        y: {
          type: 'linear', min: yt[0], max: yt[yt.length - 1],
          afterBuildTicks: fixedTicks(yt), afterFit: (s: any) => { s.width = yw; },
          ticks: { autoSkip: false, padding: 2, font: { size: 5.5, family: SANS }, color: '#595959', callback: fmt },
          grid: { drawOnChartArea: false, tickLength: 2, color: '#bfbfbf' }, border: { color: '#bfbfbf' },
        },
      },
    },
  };
}

function boxConfig() {
  const whisk = {
    id: 'whiskers',
    afterDatasetsDraw(chart: any) {
      const { ctx, scales } = chart;
      const y = scales.y;
      const meta = chart.getDatasetMeta(0);
      ctx.save();
      meta.data.forEach((bar: any, i: number) => {
        const x = Math.round(bar.x) + 0.5, w = bar.width;
        const p = (v: number) => Math.round(y.getPixelForValue(v)) + 0.5;
        ctx.strokeStyle = '#2b2b63'; ctx.lineWidth = 1;
        ctx.beginPath();
        ctx.moveTo(x, p(C_Q3[i])); ctx.lineTo(x, p(C_MAX[i]));
        ctx.moveTo(x - w * 0.25, p(C_MAX[i])); ctx.lineTo(x + w * 0.25, p(C_MAX[i]));
        ctx.moveTo(x, p(C_Q1[i])); ctx.lineTo(x, p(C_MIN[i]));
        ctx.moveTo(x - w * 0.25, p(C_MIN[i])); ctx.lineTo(x + w * 0.25, p(C_MIN[i]));
        ctx.stroke();
        ctx.strokeStyle = '#1f3d99'; ctx.lineWidth = 1.3;
        ctx.beginPath(); ctx.moveTo(x - w / 2, p(C_MED[i])); ctx.lineTo(x + w / 2, p(C_MED[i])); ctx.stroke();
      });
      ctx.restore();
    },
  };
  return {
    type: 'bar',
    data: { labels: C_GROUPS, datasets: [{ data: C_GROUPS.map((_, i) => [C_Q1[i], C_Q3[i]]), backgroundColor: '#ffffff', borderColor: '#555', borderWidth: 1, borderSkipped: false, barPercentage: 0.45, categoryPercentage: 1 }] },
    options: {
      animation: false, responsive: false, devicePixelRatio: 1,
      layout: { padding: { top: 5, right: 5, left: 0, bottom: 0 } },
      plugins: { legend: { display: false }, tooltip: { enabled: false } },
      scales: {
        x: {
          type: 'category', afterFit: (s: any) => { s.height = 14; },
          ticks: { autoSkip: false, maxRotation: 0, minRotation: 0, padding: 3, font: { size: 7, family: SANS }, color: '#222' },
          grid: { display: false, drawTicks: false, tickLength: 0 }, border: { color: '#777' },
        },
        y: {
          min: 0.37, max: 0.97, afterBuildTicks: fixedTicks(C_Y_TICKS), afterFit: (s: any) => { s.width = 28; },
          ticks: { padding: 2, font: { size: 7, family: SANS }, color: '#222', callback: (v: number) => v.toFixed(1) },
          grid: { drawOnChartArea: false, tickLength: 3, color: '#777' }, border: { color: '#777' },
        },
      },
    },
    plugins: [whisk],
  };
}

const vline = (value: number, color: string) => ({
  id: 'vline',
  afterDatasetsDraw(chart: any) {
    const { ctx, chartArea: a, scales } = chart;
    const x = Math.round(scales.x.getPixelForValue(value)) + 0.5;
    ctx.save(); ctx.strokeStyle = color; ctx.lineWidth = 1; ctx.setLineDash([2, 2]);
    ctx.beginPath(); ctx.moveTo(x, a.top); ctx.lineTo(x, a.bottom); ctx.stroke(); ctx.restore();
  },
});

const smallAxis = (min: number, max: number, ticks: number[], fitKey: string, fitVal: number, cb: any) => ({
  type: 'linear', min, max,
  afterBuildTicks: fixedTicks(ticks), afterFit: (s: any) => { s[fitKey] = fitVal; },
  ticks: { autoSkip: false, maxRotation: 0, padding: 1, font: { size: 4.5, family: SANS }, color: '#222', callback: cb },
  grid: { drawOnChartArea: false, tickLength: 2, color: '#444' }, border: { color: '#444' },
});

function d1Config() {
  return {
    type: 'scatter',
    data: { datasets: [{ data: D1_CUTS.map((x, i) => ({ x, y: D1_STATS[i] })), showLine: true, borderColor: '#111', borderWidth: 0.7, pointRadius: 1, backgroundColor: '#111', pointBorderWidth: 0 }] },
    options: {
      animation: false, responsive: false, devicePixelRatio: 1,
      layout: { padding: { top: 2, right: 3, left: 0, bottom: 0 } },
      plugins: { legend: { display: false }, tooltip: { enabled: false } },
      scales: { x: smallAxis(74.5, 100.5, D1_X_TICKS, 'height', 8, fmt), y: smallAxis(0.1, 1.75, D1_Y_TICKS, 'width', 12, (v: number) => v.toFixed(1)) },
    },
    plugins: [vline(D1_CUTPOINT, '#333')],
  };
}

function d2Config() {
  const line = (c: number[][], color: string) => ({ data: c.map(([x, y]) => ({ x, y })), showLine: true, stepped: true, borderColor: color, borderWidth: 1, pointRadius: 0 });
  return {
    type: 'scatter',
    data: {
      datasets: [
        line(D2_LOW, '#2020b0'), line(D2_HIGH, '#b8141c'),
        { data: D2_HIGH_C.map((t) => ({ x: t, y: stepAt(D2_HIGH, t) })), pointStyle: 'cross', pointRadius: 1.6, borderColor: '#b8141c', borderWidth: 0.8 },
      ],
    },
    options: {
      animation: false, responsive: false, devicePixelRatio: 1,
      layout: { padding: { top: 2, right: 3, left: 0, bottom: 0 } },
      plugins: { legend: { display: false }, tooltip: { enabled: false } },
      scales: { x: smallAxis(-20, 1150, D2_X_TICKS, 'height', 8, fmt), y: smallAxis(-0.02, 1.03, D2_Y_TICKS, 'width', 12, (v: number) => v.toFixed(1)) },
    },
  };
}

function d3Config() {
  return {
    type: 'scatter',
    data: { datasets: [{ data: D3_SIGNAL.map((v, i) => ({ x: i * D3_SAMPLE_STEP, y: v })), backgroundColor: '#c0141c', borderWidth: 0, pointRadius: 1.2 }] },
    options: {
      animation: false, responsive: false, devicePixelRatio: 1,
      layout: { padding: { top: 2, right: 3, left: 0, bottom: 0 } },
      plugins: { legend: { display: false }, tooltip: { enabled: false } },
      scales: { x: smallAxis(-5, 168, D3_X_TICKS, 'height', 8, fmt), y: smallAxis(70, 130, D3_Y_TICKS, 'width', 12, fmt) },
    },
    plugins: [vline(D3_CUT_INDEX, '#111')],
  };
}

export default function App() {
  return (
    <div style={{ position: 'absolute', left: 0, top: 0, width: 685, height: 1183, background: '#fff', overflow: 'hidden', fontFamily: SANS }}>
      {/* panel labels */}
      <Txt x={1} y={7} size={20} weight="bold" anchor="l">a</Txt>
      <Txt x={1} y={710} size={20} weight="bold" anchor="l">b</Txt>
      <Txt x={1} y={972} size={20} weight="bold" anchor="l">c</Txt>
      <Txt x={362} y={968} size={20} weight="bold" anchor="l">d</Txt>

      {/* panel a */}
      {KM_PLOTS.map((k, i) => (
        <ChartBox key={'km' + i} left={KM_COL_LEFT[i % 4]} top={KM_ROW_TOP[Math.floor(i / 4)]} width={172} height={172} config={() => kmConfig(k)} />
      ))}

      {/* panel b */}
      {B_PLOTS.map((b, i) => {
        const [l, t, r, bt] = B_AREAS[i];
        const yw = 16;
        const row = Math.floor(i / 4);
        return (
          <React.Fragment key={'b' + i}>
            <ChartBox left={l - yw} top={t - 4} width={r - l + yw + 6} height={bt - t + 4 + 12} config={() => scatterConfig(b, yw)} />
            <Txt x={B_TITLE_X[i]} y={row === 0 ? 717 : 843} size={10.5} family={SERIF}>{b.r}<i>P</i>{b.p}</Txt>
            <Txt x={B_XT_X[i]} y={row === 0 ? 821 : 947} size={10} family={SERIF}><i>{b.gene}</i> expression (lg)</Txt>
            <Txt x={B_YL_X[i]} y={row === 0 ? 765 : 891} size={9.5} family={SERIF} rot><i>{b.gene}</i> methylation (lg)</Txt>
          </React.Fragment>
        );
      })}

      {/* panel c */}
      <Txt x={45} y={992} size={6.5} lh={1.35}>Acute Myeloid<br />Leukemia[LAML]</Txt>
      <Txt x={118} y={992} size={6.5} lh={1.35}>chr5:157078327-<br />157079564</Txt>
      <Txt x={184} y={993} size={6.5}>NM_178424 sox30</Txt>
      <Txt x={223} y={992} size={6.5} lh={1.35}>8.871e-<br />14</Txt>
      <Txt x={291} y={993} size={6.5}>0.092</Txt>
      <Txt x={186} y={1011} size={11}>p-value=8.871e-14</Txt>
      <ChartBox left={20} top={1017} width={315} height={152} config={boxConfig} />
      <Txt x={10} y={1086} size={7} rot>Methylation Value</Txt>
      <Txt x={188} y={1177} size={7}>Sample Groups</Txt>

      {/* panel d */}
      <Txt x={445} y={979} size={6.5} weight="bold" lh={1.2}>Maximally selected<br />rank statistics</Txt>
      <ChartBox left={377} top={988} width={124} height={62} config={d1Config} />
      <Txt x={371} y={1015} size={4.5} rot>Standardized log-rank statistic</Txt>
      <Txt x={470} y={1043} size={5}>Cutpoint: 75.56</Txt>
      <Txt x={442} y={1056} size={5}>Expression of 207678_s_at (SOX30)</Txt>

      <Txt x={622} y={978} size={6.5} weight="bold">207678_s_at (SOX30)</Txt>
      <ChartBox left={545} top={984} width={140} height={66} config={d2Config} />
      <Txt x={540} y={1013} size={4.5} rot>Overall survival</Txt>
      <div style={{ position: 'absolute', left: 561, top: 1020, fontSize: 4.5, fontFamily: SANS, lineHeight: '6px', color: '#000', whiteSpace: 'nowrap' }}>
        <div>P = 0.076, HR = 0.6</div>
        <div><span style={{ display: 'inline-block', width: 8, borderTop: '1px solid #2020b0', verticalAlign: 'middle', marginRight: 2 }} />n = 18 (11%)</div>
        <div><span style={{ display: 'inline-block', width: 8, borderTop: '1px solid #b8141c', verticalAlign: 'middle', marginRight: 2 }} />n = 145 (89%)</div>
      </div>
      <Txt x={620} y={1056} size={5}>OS_DAYS</Txt>

      <Txt x={442} y={1071} size={6.5} weight="bold">207678_s_at (SOX30)</Txt>
      <ChartBox left={377} top={1078} width={124} height={90} config={d3Config} />
      <Txt x={371} y={1118} size={4.5} rot>Expression signal</Txt>
      <Txt x={442} y={1176} size={5.5}>Samples</Txt>

      <div style={{ position: 'absolute', left: 557, top: 1082, width: 122, height: 72, border: '1px solid #999', boxSizing: 'border-box', padding: '4px 4px', fontSize: 5, fontFamily: SANS, lineHeight: '6.5px', color: '#000' }}>
        <div style={{ fontWeight: 'bold', fontStyle: 'italic', marginBottom: 6 }}>Metzeler, Acute myeloid leukemia 2 (Affy U133A) (n = 163, GSID : GS-DT-27)</div>
        <div style={{ marginBottom: 4 }}>P = 0.076, HR = 0.6</div>
        <div style={{ display: 'flex', alignItems: 'flex-start', marginBottom: 3 }}>
          <span style={{ flex: '0 0 12px', borderTop: '1.5px solid #2020b0', marginTop: 3, marginRight: 3 }} />
          <span>SOX30 Expression Signal &lt; = 75.56 : n = 18 (11%)</span>
        </div>
        <div style={{ display: 'flex', alignItems: 'flex-start' }}>
          <span style={{ flex: '0 0 12px', borderTop: '1.5px solid #b8141c', marginTop: 3, marginRight: 3 }} />
          <span>SOX30 Expression Signal &gt; 75.56 : n = 145 (89%)</span>
        </div>
      </div>
      <Txt x={620} y={1176} size={5.5}>GenomicScape-2.0</Txt>
    </div>
  );
}
